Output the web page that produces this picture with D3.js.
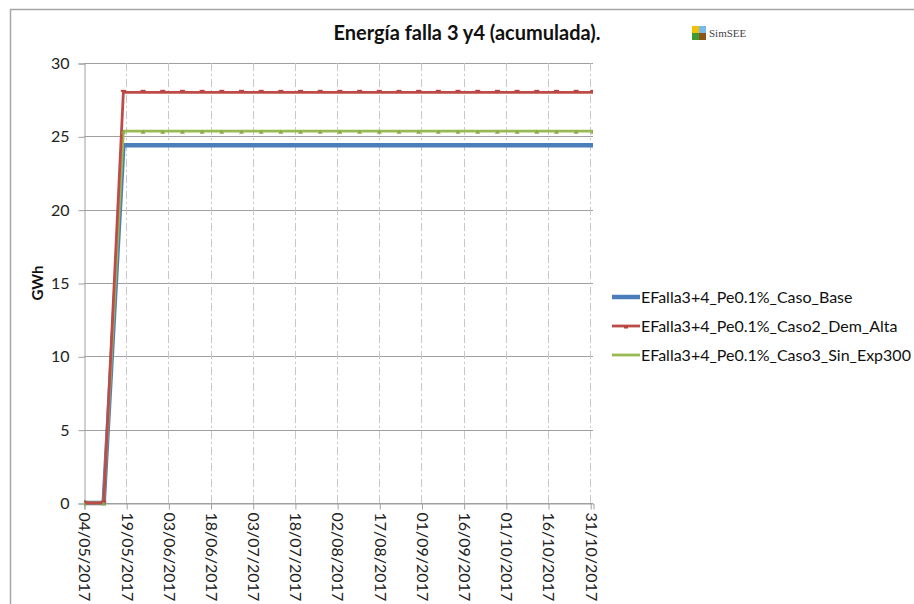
<!DOCTYPE html>
<html><head><meta charset="utf-8">
<script src="https://cdn.jsdelivr.net/npm/d3@7"></script>
<style>
html,body{margin:0;padding:0;background:#fff;}
svg{display:block;font-family:Lato,"Open Sans",sans-serif;}
</style></head>
<body><svg id="c" width="914" height="604"></svg>
<script>
// ---- data ----
const startDate = "2017-05-04";
const endDate = "2017-11-01";
const pointDates = ["2017-05-04","2017-05-11","2017-05-18","2017-05-25","2017-06-01","2017-06-08","2017-06-15","2017-06-22","2017-06-29","2017-07-06","2017-07-13","2017-07-20","2017-07-27","2017-08-03","2017-08-10","2017-08-17","2017-08-24","2017-08-31","2017-09-07","2017-09-14","2017-09-21","2017-09-28","2017-10-05","2017-10-12","2017-10-19","2017-10-26","2017-11-01"];
const seriesNames = ["EFalla3+4_Pe0.1%_Caso_Base","EFalla3+4_Pe0.1%_Caso2_Dem_Alta","EFalla3+4_Pe0.1%_Caso3_Sin_Exp300"];
const caseBase  = [0,0,24.4,24.4,24.4,24.4,24.4,24.4,24.4,24.4,24.4,24.4,24.4,24.4,24.4,24.4,24.4,24.4,24.4,24.4,24.4,24.4,24.4,24.4,24.4,24.4,24.4];
const caso2     = [0,0,28.0,28.0,28.0,28.0,28.0,28.0,28.0,28.0,28.0,28.0,28.0,28.0,28.0,28.0,28.0,28.0,28.0,28.0,28.0,28.0,28.0,28.0,28.0,28.0,28.0];
const caso3     = [0,0,25.35,25.35,25.35,25.35,25.35,25.35,25.35,25.35,25.35,25.35,25.35,25.35,25.35,25.35,25.35,25.35,25.35,25.35,25.35,25.35,25.35,25.35,25.35,25.35,25.35];
const xTickDates = ["2017-05-04","2017-05-19","2017-06-03","2017-06-18","2017-07-03","2017-07-18","2017-08-02","2017-08-17","2017-09-01","2017-09-16","2017-10-01","2017-10-16","2017-10-31"];
const yTicks = [0,5,10,15,20,25,30];
const title = "Energía falla 3 y4 (acumulada).";
const yLabel = "GWh";
const colors = ["#4a7ebb","#be4b48","#98b954"];

// ---- layout ----
const svg = d3.select("#c");
const parse = d3.timeParse("%Y-%m-%d");
const fmt = d3.timeFormat("%d/%m/%Y");
const L = 84, R = 593, T = 63, B = 503;
const x = d3.scaleTime().domain([parse(startDate), parse(endDate)]).range([L, R]);
const y = d3.scaleLinear().domain([0, 30]).range([B, T]);

// outer border
svg.append("path").attr("d","M10.5,604 V9.5 H914").attr("fill","none").attr("stroke","#a6a6a6").attr("stroke-width",1.5);

// horizontal grid
svg.append("g").selectAll("line").data(yTicks).join("line")
  .attr("x1",L).attr("x2",R).attr("y1",d=>Math.round(y(d))+0.5).attr("y2",d=>Math.round(y(d))+0.5)
  .attr("stroke","#a0a0a0").attr("stroke-width",1);
// vertical dashed grid
svg.append("g").selectAll("line").data(xTickDates.slice(1)).join("line")
  .attr("x1",d=>Math.round(x(parse(d)))+0.5).attr("x2",d=>Math.round(x(parse(d)))+0.5)
  .attr("y1",T).attr("y2",B)
  .attr("stroke","#c8c8c8").attr("stroke-width",1).attr("stroke-dasharray","8,3,2,3");

// y axis
const yAxis = d3.axisLeft(y).tickValues(yTicks).tickSize(6).tickPadding(9);
const gy = svg.append("g").attr("transform",`translate(${L+0.5},0.5)`).call(yAxis);
gy.select(".domain").attr("stroke","#a0a0a0");
gy.selectAll(".tick line").attr("stroke","#a0a0a0");
gy.selectAll(".tick text").attr("font-size",16).attr("fill","#222").attr("font-family","Lato,sans-serif");

// x axis
const xAxis = d3.axisBottom(x).tickValues(xTickDates.map(parse)).tickFormat(fmt).tickSize(6);
const gx = svg.append("g").attr("transform",`translate(0.5,${B+0.5})`).call(xAxis);
gx.select(".domain").attr("stroke","#a0a0a0");
gx.selectAll(".tick line").attr("stroke","#a0a0a0");
gx.selectAll(".tick text").attr("font-size",16).attr("fill","#222").attr("font-family","Lato,sans-serif")
  .attr("text-anchor","start").attr("dy","0.35em").attr("x",0).attr("y",0)
  .attr("transform","translate(0,9) rotate(90)");

// lines
const allSeries = [caseBase, caso2, caso3];
const widths = [4.5, 2.8, 2.8];
const line = d3.line().x((d,i)=>x(parse(pointDates[i]))).y(d=>y(d));
const clip = svg.append("clipPath").attr("id","pc").append("rect").attr("x",L).attr("y",T-10).attr("width",R-L).attr("height",B-T+15);
const gl = svg.append("g").attr("clip-path","url(#pc)");
[0,2,1].forEach(k=>{
  gl.append("path").datum(allSeries[k]).attr("d",line).attr("fill","none")
    .attr("stroke",colors[k]).attr("stroke-width",widths[k]).attr("stroke-linejoin","miter");
});
// markers
gl.append("g").selectAll("rect").data(caso2).join("rect")
  .attr("x",(d,i)=>x(parse(pointDates[i]))-2.5).attr("y",d=>y(d)-2.5).attr("width",5).attr("height",2)
  .attr("fill","#b84440");
gl.append("g").selectAll("path").data(caso3).join("path")
  .attr("d",(d,i)=>{const cx=x(parse(pointDates[i])), cy=y(d)+0.5; return `M${cx-2.5},${cy+2} L${cx},${cy-2} L${cx+2.5},${cy+2} Z`;})
  .attr("fill","#8aab48");

// title
svg.append("text").attr("x",467).attr("y",40).attr("text-anchor","middle")
  .attr("font-size",20).attr("font-weight","bold").attr("fill","#111").text(title);

// SimSEE logo
const lg = svg.append("g").attr("transform","translate(692,26)");
lg.append("rect").attr("x",0).attr("y",0).attr("width",7).attr("height",7).attr("fill","#f2c200");
lg.append("rect").attr("x",7).attr("y",0).attr("width",7).attr("height",7).attr("fill","#79b8ea");
lg.append("rect").attr("x",0).attr("y",7).attr("width",7).attr("height",7).attr("fill","#3f9a36");
lg.append("rect").attr("x",7).attr("y",7).attr("width",7).attr("height",7).attr("fill","#8a5716");
svg.append("text").attr("x",709).attr("y",37).attr("font-size",11).attr("font-family","'Liberation Serif','DejaVu Serif',serif")
  .attr("fill","#444").text("SimSEE");

// y label
svg.append("text").attr("transform","translate(43,283) rotate(-90)").attr("text-anchor","middle")
  .attr("font-size",15).attr("font-weight","bold").attr("fill","#111").text(yLabel);

// legend
const legY = [297, 326, 355];
seriesNames.forEach((n,k)=>{
  svg.append("line").attr("x1",612).attr("x2",640).attr("y1",legY[k]).attr("y2",legY[k])
    .attr("stroke",colors[k]).attr("stroke-width",k===0?4.5:2.8);
  if(k===1) svg.append("rect").attr("x",624).attr("y",legY[k]).attr("width",4).attr("height",2.5).attr("fill","#b84440");
  svg.append("text").attr("x",641).attr("y",legY[k]).attr("dy","0.35em").attr("font-size",16).attr("fill","#111").text(n);
});
</script></body></html>
